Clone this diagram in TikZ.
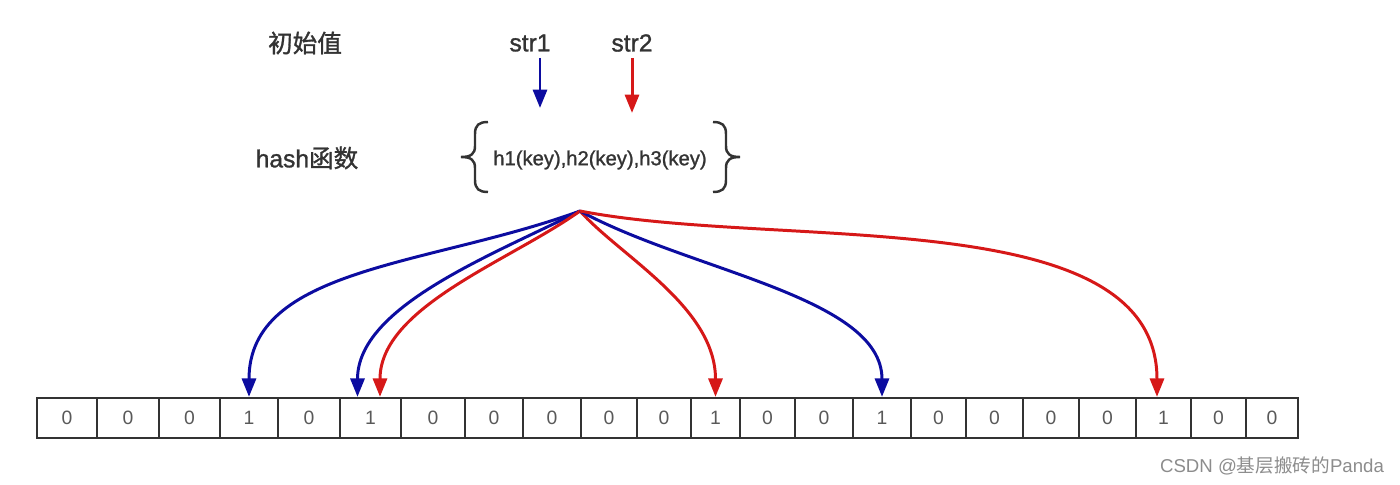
\documentclass[tikz,border=0pt]{standalone}
\usepackage{fontspec}
\setmainfont{Liberation Sans}
\newfontfamily\heavy{Liberation Sans}[FakeBold=1.2]
\newfontfamily\cjk{Noto Sans CJK SC}
\newfontfamily\cjkheavy{Noto Sans CJK SC}[FakeBold=1.2]
\usetikzlibrary{arrows.meta}
\definecolor{hblue}{RGB}{12,12,160}
\definecolor{hred}{RGB}{214,24,24}
\definecolor{ink}{RGB}{51,51,51}
\tikzstyle{cell}=[draw=ink,line width=1.3pt,rectangle,inner sep=0pt,minimum height=0.8cm,text=black!65,font=\fontsize{11}{13}\selectfont]
\tikzstyle{title}=[text=ink,font=\fontsize{14}{16}\selectfont\heavy]
\tikzstyle{hedge}=[draw,line width=1.7pt,-{Triangle[length=10.5pt,width=8pt]}]
\tikzstyle{brace}=[draw=ink,line width=1.4pt]

\begin{document}
\begin{tikzpicture}[x=0.02cm,y=0.02cm]

    \useasboundingbox (0,0) rectangle (1400,484);

    \node[title] (init) at (305,441) {\cjkheavy 初始值};
    \node[title] (str1) at (530,441) {str1};
    \node[title] (str2) at (632,441) {str2};
    \node[title] (hash) at (307,326) {hash{\cjkheavy 函数}};
    \node[text=ink,font=\fontsize{11.5}{13}\selectfont\heavy] (hfun) at (600,324) {h1(key),h2(key),h3(key)};

    \coordinate (a1) at (540,376);
    \coordinate (a2) at (632,371);
    \draw[hedge,hblue] (str1.south -| a1) -- (a1);
    \draw[hedge,hred] (str2.south -| a2) -- (a2);

    % braces round the hash functions
    \path[brace] (488,362) .. controls (479,362) and (475,359) .. (475,350) -- (475,338)
        .. controls (475,330) and (471,327) .. (461,327) .. controls (471,327) and (475,324) .. (475,316)
        -- (475,304) .. controls (475,295) and (479,292) .. (488,292);
    \path[brace] (713,362) .. controls (722,362) and (726,359) .. (726,350) -- (726,338)
        .. controls (726,330) and (730,327) .. (740,327) .. controls (730,327) and (726,324) .. (726,316)
        -- (726,304) .. controls (726,295) and (722,292) .. (713,292);

    % bit array
    \foreach \l/\r/\v [count=\i from 0] in {37/97/0, 97/159/0, 159/220/0, 220/278/1, 278/340/0, 340/401/1,
        401/465/0, 465/523/0, 523/581/0, 581/637/0, 637/691/0, 691/740/1, 740/795/0, 795/853/0,
        853/911/1, 911/966/0, 966/1023/0, 1023/1079/0, 1079/1136/0, 1136/1191/1, 1191/1246/0, 1246/1298/0}
        \node[cell,minimum width={(\r-\l)*0.02cm}] (c\i) at ({(\l+\r)/2},66) {\v};

    \coordinate (src) at (580,273);
    \draw[hedge,hblue] (src) .. controls +(-150,-55) and +(0,130) .. (c3.north);
    \draw[hedge,hblue] (src) .. controls +(-90,-45) and +(0,90) .. ([xshift=-0.26cm]c5.north);
    \draw[hedge,hred] (src) .. controls +(-70,-50) and +(0,90) .. ([xshift=0.19cm]c5.north);
    \draw[hedge,hred] (src) .. controls +(40,-45) and +(0,90) .. (c11.north);
    \draw[hedge,hblue] (src) .. controls +(110,-60) and +(0,100) .. (c14.north);
    \draw[hedge,hred] (src) .. controls +(200,-39) and +(0,196) .. ([xshift=-0.13cm]c19.north);

    \node[text=black!45,font=\fontsize{10.6}{12}\selectfont] (mark) at (1272,18) {CSDN @{\cjk 基层搬砖的}Panda};

\end{tikzpicture}
\end{document}
